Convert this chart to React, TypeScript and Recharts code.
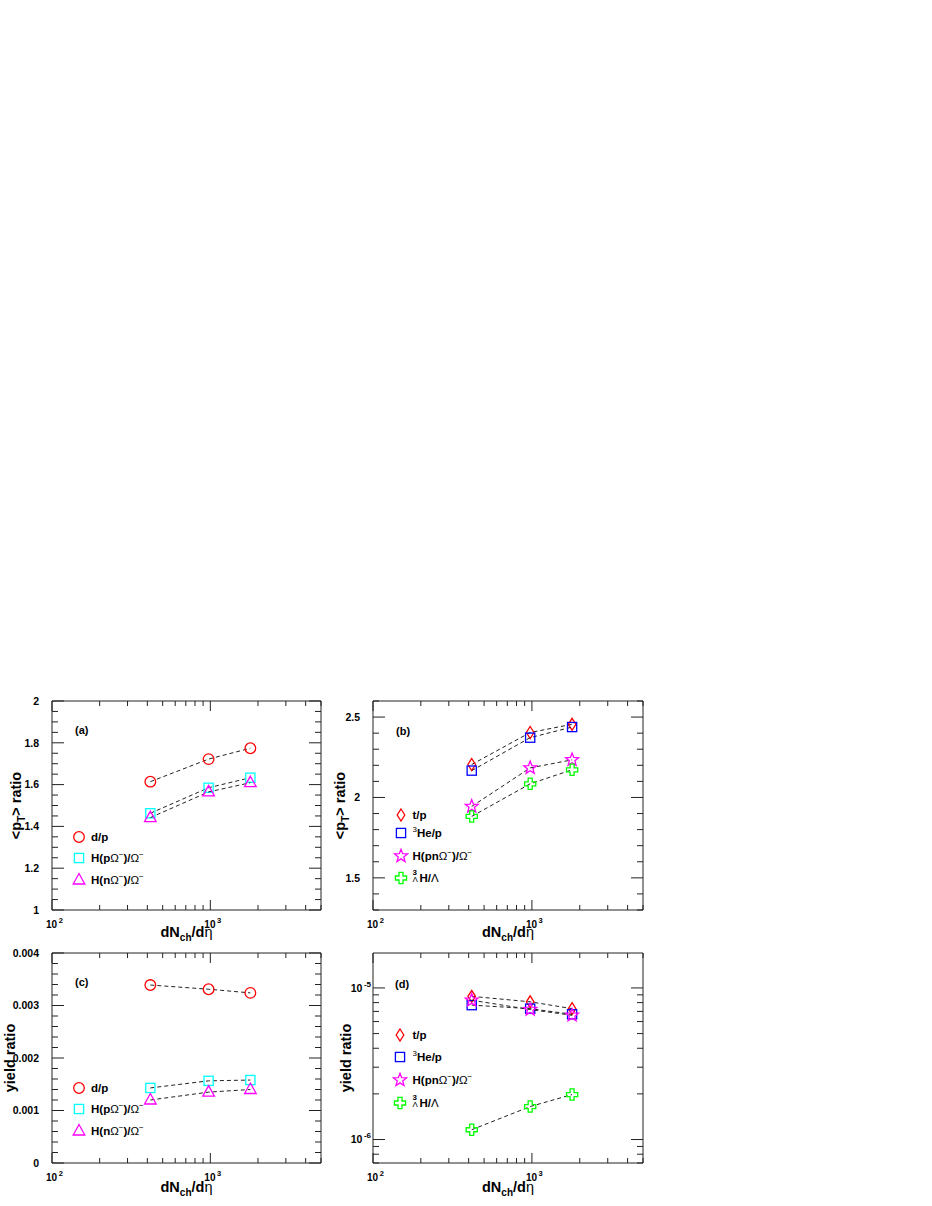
import React from "react";
import { ScatterChart, Scatter, XAxis, YAxis, ReferenceLine, Legend } from "recharts";

const FONT = "'Liberation Sans', Arial, Helvetica, sans-serif";
const INK = "#222";

// charged-particle multiplicity of the three centrality classes
const dNch = [418, 975, 1790];

const xTicks = [100, 200, 300, 400, 500, 600, 700, 800, 900, 1000, 2000, 3000, 4000, 5000];
const xMajor = [100, 1000];
const xMajorExp = ["2", "3"];

// (a) <pT> ratio, A = 2
const ptDP = [1.614, 1.722, 1.774];
const ptHpOm = [1.463, 1.585, 1.633];
const ptHnOm = [1.442, 1.565, 1.609];
const ptTicksA = [1, 1.05, 1.1, 1.15, 1.2, 1.25, 1.3, 1.35, 1.4, 1.45, 1.5, 1.55, 1.6, 1.65, 1.7, 1.75, 1.8, 1.85, 1.9, 1.95, 2];
const ptMajorA = [1, 1.2, 1.4, 1.6, 1.8, 2];
const ptLabelsA = ["1", "1.2", "1.4", "1.6", "1.8", "2"];

// (b) <pT> ratio, A = 3
const ptTP = [2.205, 2.404, 2.455];
const ptHe3P = [2.167, 2.372, 2.438];
const ptHpnOm = [1.944, 2.184, 2.234];
const ptHyperH = [1.882, 2.085, 2.172];
const ptTicksB = [1.3, 1.4, 1.5, 1.6, 1.7, 1.8, 1.9, 2, 2.1, 2.2, 2.3, 2.4, 2.5, 2.6];
const ptMajorB = [1.5, 2, 2.5];
const ptLabelsB = ["1.5", "2", "2.5"];

// (c) yield ratio, A = 2
const yDP = [0.00339, 0.00331, 0.00324];
const yHpOm = [0.00143, 0.001565, 0.00158];
const yHnOm = [0.0012, 0.00135, 0.0014];
const yTicksC = [0, 0.0002, 0.0004, 0.0006, 0.0008, 0.001, 0.0012, 0.0014, 0.0016, 0.0018, 0.002, 0.0022, 0.0024, 0.0026, 0.0028, 0.003, 0.0032, 0.0034, 0.0036, 0.0038, 0.004];
const yMajorC = [0, 0.001, 0.002, 0.003, 0.004];
const yLabelsC = ["0", "0.001", "0.002", "0.003", "0.004"];

// (d) yield ratio, A = 3
const yTP = [8.8e-6, 8.1e-6, 7.3e-6];
const yHe3P = [7.7e-6, 7.3e-6, 6.7e-6];
const yHpnOm = [8.3e-6, 7.2e-6, 6.6e-6];
const yHyperH = [1.16e-6, 1.65e-6, 1.98e-6];
const yTicksD = [7e-7, 8e-7, 9e-7, 1e-6, 2e-6, 3e-6, 4e-6, 5e-6, 6e-6, 7e-6, 8e-6, 9e-6, 1e-5];
const yMajorD = [1e-6, 1e-5];
const yExpD = ["-6", "-5"];

type MarkerKind = "circle" | "square" | "triangle" | "diamond" | "star" | "cross";

function Marker({ kind, cx, cy, color }: { kind: MarkerKind; cx: number; cy: number; color: string }) {
  const common = { fill: "none", stroke: color, strokeWidth: 1.3 };
  if (kind === "circle") return <circle cx={cx} cy={cy} r={5.3} {...common} />;
  if (kind === "square") return <rect x={cx - 4.6} y={cy - 4.6} width={9.2} height={9.2} {...common} />;
  if (kind === "triangle")
    return <polygon points={`${cx},${cy - 6.5} ${cx + 5.8},${cy + 4} ${cx - 5.8},${cy + 4}`} {...common} />;
  if (kind === "diamond")
    return <polygon points={`${cx},${cy - 6} ${cx + 3.8},${cy} ${cx},${cy + 6} ${cx - 3.8},${cy}`} {...common} />;
  if (kind === "star") {
    const pts: string[] = [];
    for (let k = 0; k < 10; k++) {
      const r = k % 2 === 0 ? 6.8 : 2.9;
      const a = -Math.PI / 2 + (k * Math.PI) / 5;
      pts.push(`${cx + r * Math.cos(a)},${cy + r * Math.sin(a)}`);
    }
    return <polygon points={pts.join(" ")} {...common} />;
  }
  const a = 2, b = 5.6;
  const p = [
    [-a, -b], [a, -b], [a, -a], [b, -a], [b, a], [a, a], [a, b], [-a, b], [-a, a], [-b, a], [-b, -a], [-a, -a],
  ];
  return <polygon points={p.map(([dx, dy]) => `${cx + dx},${cy + dy}`).join(" ")} {...common} />;
}

const Om = () => <span style={{ fontWeight: 400 }}>Ω</span>;
const Sup = ({ children }: { children: React.ReactNode }) => (
  <span style={{ fontSize: 8, position: "relative", top: -5, fontWeight: 400 }}>{children}</span>
);
const Lam = () => <span style={{ fontWeight: 400 }}>Λ</span>;
// ³ over Λ, stacked in front of the H
const HyperLabel = () => (
  <span>
    <span style={{ position: "relative", display: "inline-block", width: 7, height: 10 }}>
      <span style={{ position: "absolute", left: 0, top: -3, fontSize: 8, lineHeight: "8px" }}>3</span>
      <span style={{ position: "absolute", left: 0, top: 4, fontSize: 8, lineHeight: "8px", fontWeight: 400 }}>Λ</span>
    </span>
    H/<Lam />
  </span>
);

type Series = { key: string; kind: MarkerKind; color: string; values: number[]; label: React.ReactNode };

type PanelProps = {
  left: number;
  top: number;
  width: number;
  height: number;
  plotLeft: number;
  plotTop: number;
  plotWidth: number;
  plotHeight: number;
  yScale: "linear" | "log";
  yDomain: [number, number];
  yTicks: number[];
  yMajor: number[];
  yLabel: (i: number) => React.ReactNode;
  yLabelGap: number;
  yTitle: React.ReactNode;
  yTitleX: number;
  xTitleDy: number;
  tag: string;
  tagPos: [number, number];
  series: Series[];
  legendX: number;
  legendTextX: number;
  legendRows: number[];
};

function Panel(p: PanelProps) {
  const L = p.plotLeft;
  const R = p.plotLeft + p.plotWidth;
  const T = p.plotTop;
  const B = p.plotTop + p.plotHeight;

  const xTick = (props: any) => {
    const x = props.x;
    const i = xMajor.indexOf(props.payload.value);
    const len = i >= 0 ? 10 : 5;
    return (
      <g>
        <line x1={x} x2={x} y1={B} y2={B - len} stroke={INK} />
        <line x1={x} x2={x} y1={T} y2={T + len} stroke={INK} />
        {i >= 0 && (
          <text x={x - 6} y={B + 17.5} fontFamily={FONT} fontWeight="bold" fontSize={10} fill="#000">
            10
            <tspan dx={1.5} dy={-4.5} fontSize={7.5}>
              {xMajorExp[i]}
            </tspan>
          </text>
        )}
      </g>
    );
  };

  const yTick = (props: any) => {
    const y = props.y;
    const i = p.yMajor.indexOf(props.payload.value);
    const len = i >= 0 ? 12 : 6;
    return (
      <g>
        <line x1={L} x2={L + len} y1={y} y2={y} stroke={INK} />
        <line x1={R - len} x2={R} y1={y} y2={y} stroke={INK} />
        {i >= 0 && (
          <text x={L - p.yLabelGap} y={y + 3.8} textAnchor="end" fontFamily={FONT} fontWeight="bold" fontSize={10.5} fill="#000">
            {p.yLabel(i)}
          </text>
        )}
      </g>
    );
  };

  const xTitle = () => (
    <text x={(L + R) / 2} y={B + p.xTitleDy} textAnchor="middle" fontFamily={FONT} fontWeight="bold" fontSize={14.5} fill="#000">
      dN
      <tspan fontSize={10} dy={4}>
        ch
      </tspan>
      <tspan dy={-4}>/d</tspan>
      <tspan fontWeight={400}>η</tspan>
    </text>
  );

  const yTitle = () => {
    const cy = (T + B) / 2;
    return (
      <text
        x={p.yTitleX}
        y={cy}
        transform={`rotate(-90 ${p.yTitleX} ${cy})`}
        textAnchor="middle"
        fontFamily={FONT}
        fontWeight="bold"
        fontSize={14.5}
        fill="#000"
      >
        {p.yTitle}
      </text>
    );
  };

  const legend = () => (
    <div style={{ position: "relative", width: p.width, height: p.height, fontFamily: FONT, fontWeight: "bold", fontSize: 11.5, color: "#000" }}>
      <div style={{ position: "absolute", left: p.tagPos[0], top: p.tagPos[1] - 7, lineHeight: "14px", fontSize: 11 }}>{p.tag}</div>
      {p.series.map((s, i) => (
        <div
          key={s.key}
          style={{
            position: "absolute",
            left: p.legendX - 8,
            top: p.legendRows[i] - 10,
            height: 20,
            display: "flex",
            alignItems: "center",
            whiteSpace: "nowrap",
          }}
        >
          <svg width={16} height={20} style={{ display: "block" }}>
            <Marker kind={s.kind} cx={8} cy={10} color={s.color} />
          </svg>
          <span style={{ marginLeft: p.legendTextX - p.legendX - 8 }}>{s.label}</span>
        </div>
      ))}
    </div>
  );

  return (
    <div style={{ position: "absolute", left: p.left, top: p.top }}>
      <ScatterChart
        width={p.width}
        height={p.height}
        margin={{ top: T, right: p.width - R, bottom: 0, left: 0 }}
      >
        <XAxis
          type="number"
          dataKey="x"
          scale="log"
          domain={[100, 5000]}
          allowDataOverflow
          ticks={xTicks}
          interval={0}
          tick={xTick}
          tickLine={false}
          tickSize={0}
          tickMargin={0}
          height={p.height - B}
          axisLine={{ stroke: INK, strokeWidth: 1 }}
          label={xTitle}
        />
        <YAxis
          type="number"
          dataKey="y"
          scale={p.yScale}
          domain={p.yDomain}
          allowDataOverflow
          ticks={p.yTicks}
          interval={0}
          tick={yTick}
          tickLine={false}
          tickSize={0}
          tickMargin={0}
          width={L}
          axisLine={{ stroke: INK, strokeWidth: 1 }}
          label={yTitle}
        />
        <ReferenceLine y={p.yDomain[1]} stroke={INK} strokeWidth={1} />
        <ReferenceLine x={5000} stroke={INK} strokeWidth={1} />
        {p.series.map((s) => (
          <Scatter
            key={s.key}
            name={s.key}
            data={dNch.map((x, i) => ({ x, y: s.values[i] }))}
            line={{ stroke: INK, strokeWidth: 1, strokeDasharray: "4 3" }}
            shape={(sp: any) => <Marker kind={s.kind} cx={sp.cx} cy={sp.cy} color={s.color} />}
            isAnimationActive={false}
          />
        ))}
        <Legend
          layout="vertical"
          align="center"
          verticalAlign="middle"
          content={legend}
          wrapperStyle={{ left: 0, top: 0, width: p.width, height: p.height, pointerEvents: "none" }}
        />
      </ScatterChart>
    </div>
  );
}

const ptTitle = (
  <>
    &lt;p
    <tspan fontSize={10} dy={4}>
      T
    </tspan>
    <tspan dy={-4}>&gt; ratio</tspan>
  </>
);

const seriesA: Series[] = [
  { key: "d/p", kind: "circle", color: "#ff0000", values: ptDP, label: "d/p" },
  { key: "HpOm", kind: "square", color: "#00ffff", values: ptHpOm, label: <>H(p<Om /><Sup>−</Sup>)/<Om /><Sup>−</Sup></> },
  { key: "HnOm", kind: "triangle", color: "#ff00ff", values: ptHnOm, label: <>H(n<Om /><Sup>−</Sup>)/<Om /><Sup>−</Sup></> },
];

const seriesB: Series[] = [
  { key: "t/p", kind: "diamond", color: "#ff0000", values: ptTP, label: "t/p" },
  { key: "He3/p", kind: "square", color: "#0000ff", values: ptHe3P, label: <><Sup>3</Sup>He/p</> },
  { key: "HpnOm", kind: "star", color: "#ff00ff", values: ptHpnOm, label: <>H(pn<Om /><Sup>−</Sup>)/<Om /><Sup>−</Sup></> },
  { key: "HyperH", kind: "cross", color: "#00ff00", values: ptHyperH, label: <HyperLabel /> },
];

const seriesC: Series[] = [
  { key: "d/p", kind: "circle", color: "#ff0000", values: yDP, label: "d/p" },
  { key: "HpOm", kind: "square", color: "#00ffff", values: yHpOm, label: <>H(p<Om /><Sup>−</Sup>)/<Om /><Sup>−</Sup></> },
  { key: "HnOm", kind: "triangle", color: "#ff00ff", values: yHnOm, label: <>H(n<Om /><Sup>−</Sup>)/<Om /><Sup>−</Sup></> },
];

const seriesD: Series[] = [
  { key: "t/p", kind: "diamond", color: "#ff0000", values: yTP, label: "t/p" },
  { key: "He3/p", kind: "square", color: "#0000ff", values: yHe3P, label: <><Sup>3</Sup>He/p</> },
  { key: "HpnOm", kind: "star", color: "#ff00ff", values: yHpnOm, label: <>H(pn<Om /><Sup>−</Sup>)/<Om /><Sup>−</Sup></> },
  { key: "HyperH", kind: "cross", color: "#00ff00", values: yHyperH, label: <HyperLabel /> },
];

export default function App() {
  return (
    <div style={{ position: "absolute", left: 0, top: 0, width: 932, height: 1206, background: "#fff" }}>
      <Panel
        left={0}
        top={690}
        width={331}
        height={260}
        plotLeft={52}
        plotTop={11}
        plotWidth={269}
        plotHeight={209}
        yScale="linear"
        yDomain={[1, 2]}
        yTicks={ptTicksA}
        yMajor={ptMajorA}
        yLabel={(i) => ptLabelsA[i]}
        yLabelGap={13}
        yTitle={ptTitle}
        yTitleX={20.5}
        xTitleDy={27.3}
        tag="(a)"
        tagPos={[75, 40]}
        series={seriesA}
        legendX={79}
        legendTextX={91}
        legendRows={[146.7, 168.3, 190]}
      />
      <Panel
        left={320}
        top={690}
        width={333}
        height={260}
        plotLeft={53}
        plotTop={11}
        plotWidth={270}
        plotHeight={209}
        yScale="linear"
        yDomain={[1.3, 2.6]}
        yTicks={ptTicksB}
        yMajor={ptMajorB}
        yLabel={(i) => ptLabelsB[i]}
        yLabelGap={13}
        yTitle={ptTitle}
        yTitleX={25}
        xTitleDy={27.3}
        tag="(b)"
        tagPos={[76, 41]}
        series={seriesB}
        legendX={81}
        legendTextX={92.5}
        legendRows={[125, 143.3, 166, 188.3]}
      />
      <Panel
        left={0}
        top={942}
        width={331}
        height={270}
        plotLeft={52}
        plotTop={11}
        plotWidth={269}
        plotHeight={210}
        yScale="linear"
        yDomain={[0, 0.004]}
        yTicks={yTicksC}
        yMajor={yMajorC}
        yLabel={(i) => yLabelsC[i]}
        yLabelGap={13}
        yTitle="yield ratio"
        yTitleX={14.5}
        xTitleDy={29}
        tag="(c)"
        tagPos={[75, 40]}
        series={seriesC}
        legendX={79}
        legendTextX={91}
        legendRows={[146, 167, 188.7]}
      />
      <Panel
        left={320}
        top={942}
        width={333}
        height={270}
        plotLeft={53}
        plotTop={11}
        plotWidth={270}
        plotHeight={210}
        yScale="log"
        yDomain={[7e-7, 1.7e-5]}
        yTicks={yTicksD}
        yMajor={yMajorD}
        yLabel={(i) => (
          <>
            10
            <tspan dx={1.5} dy={-5} fontSize={8}>
              {yExpD[i]}
            </tspan>
          </>
        )}
        yLabelGap={2}
        yTitle="yield ratio"
        yTitleX={30.5}
        xTitleDy={29}
        tag="(d)"
        tagPos={[75, 42]}
        series={seriesD}
        legendX={80}
        legendTextX={92.5}
        legendRows={[93, 114.7, 138, 161.3]}
      />
    </div>
  );
}
